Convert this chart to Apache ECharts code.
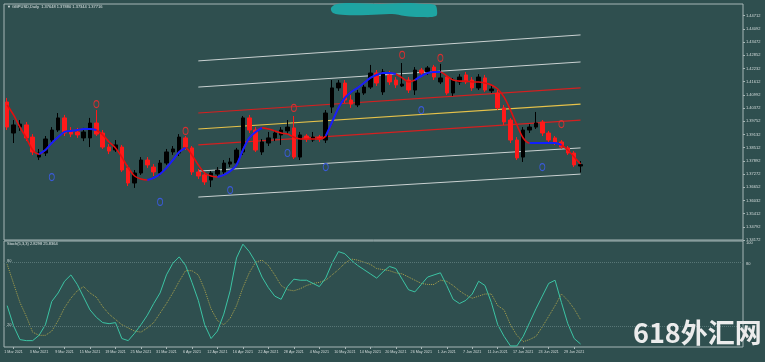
<!DOCTYPE html>
<html><head><meta charset="utf-8">
<script src="https://cdn.jsdelivr.net/npm/echarts@6/dist/echarts.min.js"></script>
<style>html,body{margin:0;padding:0;background:#2f4f4f;}#c{width:765px;height:362px;}</style>
</head><body><div id="c"></div>
<script>
// ---- data ----
const firstDate = '2021-02-24';
const barCount = 91;
const blankBars = 25;
const tickLabels = ['1 Mar 2021','3 Mar 2021','9 Mar 2021','15 Mar 2021','19 Mar 2021','25 Mar 2021','31 Mar 2021','6 Apr 2021','12 Apr 2021','16 Apr 2021','22 Apr 2021','28 Apr 2021','4 May 2021','10 May 2021','14 May 2021','20 May 2021','26 May 2021','1 Jun 2021','7 Jun 2021','11 Jun 2021','17 Jun 2021','23 Jun 2021','29 Jun 2021'];
// [open, close, low, high]
const candles = [
[1.4066,1.3948,1.3934,1.4085],[1.3920,1.3958,1.3873,1.3981],[1.3948,1.3962,1.3930,1.3981],[1.3958,1.3897,1.3882,1.3972],[1.3901,1.3831,1.3817,1.3915],
[1.3807,1.3826,1.3793,1.3845],[1.3826,1.3892,1.3812,1.3906],[1.3887,1.3934,1.3878,1.3948],[1.3934,1.3991,1.3925,1.4014],[1.3991,1.3920,1.3906,1.4005],
[1.3930,1.3915,1.3901,1.3948],[1.3925,1.3911,1.3897,1.3944],[1.3897,1.3925,1.3882,1.3944],[1.3897,1.3967,1.3854,1.3991],[1.3967,1.3915,1.3906,1.4028],
[1.3920,1.3854,1.3845,1.3934],[1.3854,1.3835,1.3821,1.3868],[1.3840,1.3864,1.3831,1.3887],[1.3854,1.3746,1.3737,1.3864],[1.3756,1.3685,1.3671,1.3770],
[1.3685,1.3732,1.3662,1.3746],[1.3732,1.3793,1.3723,1.3807],[1.3793,1.3770,1.3756,1.3807],[1.3760,1.3737,1.3718,1.3774],[1.3732,1.3779,1.3718,1.3793],
[1.3779,1.3831,1.3770,1.3845],[1.3831,1.3845,1.3817,1.3859],[1.3826,1.3901,1.3812,1.3915],[1.3897,1.3854,1.3840,1.3906],[1.3850,1.3737,1.3723,1.3859],
[1.3737,1.3718,1.3704,1.3751],[1.3723,1.3690,1.3676,1.3737],[1.3699,1.3732,1.3666,1.3741],[1.3727,1.3746,1.3713,1.3760],[1.3737,1.3779,1.3723,1.3793],
[1.3774,1.3784,1.3760,1.3803],[1.3779,1.3840,1.3765,1.3850],[1.3831,1.3991,1.3817,1.4000],[1.3991,1.3934,1.3920,1.4005],[1.3934,1.3840,1.3831,1.3948],
[1.3831,1.3878,1.3817,1.3892],[1.3873,1.3897,1.3859,1.3925],[1.3897,1.3920,1.3882,1.3934],[1.3911,1.3934,1.3864,1.3948],[1.3930,1.3948,1.3915,1.3981],
[1.3944,1.3807,1.3798,1.4000],[1.3807,1.3911,1.3793,1.3925],[1.3906,1.3892,1.3878,1.3915],[1.3887,1.3901,1.3878,1.3925],[1.3901,1.3892,1.3878,1.3911],
[1.3887,1.4014,1.3873,1.4028],[1.4042,1.4132,1.4014,1.4169],[1.4132,1.4155,1.4118,1.4169],[1.4155,1.4075,1.4061,1.4169],[1.4075,1.4056,1.4038,1.4099],
[1.4052,1.4108,1.4042,1.4122],[1.4108,1.4136,1.4099,1.4150],[1.4136,1.4202,1.4127,1.4240],[1.4202,1.4155,1.4141,1.4216],[1.4113,1.4207,1.4099,1.4221],
[1.4193,1.4160,1.4146,1.4212],[1.4169,1.4146,1.4132,1.4183],[1.4141,1.4150,1.4136,1.4249],[1.4169,1.4122,1.4108,1.4183],[1.4122,1.4216,1.4099,1.4230],
[1.4216,1.4202,1.4188,1.4226],[1.4207,1.4226,1.4193,1.4235],[1.4230,1.4183,1.4169,1.4240],[1.4160,1.4179,1.4150,1.4245],[1.4183,1.4108,1.4099,1.4193],
[1.4108,1.4169,1.4094,1.4179],[1.4160,1.4183,1.4146,1.4197],[1.4193,1.4160,1.4150,1.4207],[1.4169,1.4132,1.4118,1.4183],[1.4132,1.4183,1.4122,1.4197],
[1.4179,1.4122,1.4113,1.4193],[1.4118,1.4127,1.4108,1.4141],[1.4108,1.4038,1.4028,1.4122],[1.4038,1.3972,1.3958,1.4052],[1.3981,1.3887,1.3873,1.3991],
[1.3887,1.3803,1.3793,1.3901],[1.3807,1.3934,1.3784,1.3948],[1.3934,1.3948,1.3920,1.3962],[1.3948,1.3967,1.3939,1.4019],[1.3972,1.3920,1.3906,1.3981],
[1.3920,1.3887,1.3878,1.3930],[1.3897,1.3873,1.3864,1.3906],[1.3878,1.3854,1.3845,1.3887],[1.3850,1.3826,1.3817,1.3859],[1.3826,1.3770,1.3760,1.3835],
[1.37648,1.37716,1.37344,1.37880]
];
const trendLine = [
1.4052,1.4005,1.3948,1.3897,1.3840,1.3821,1.3840,1.3873,1.3901,1.3925,
1.3930,1.3934,1.3939,1.3939,1.3934,1.3911,1.3878,1.3850,1.3807,1.3756,
1.3718,1.3704,1.3699,1.3709,1.3727,1.3756,1.3793,1.3831,1.3850,1.3817,
1.3770,1.3732,1.3718,1.3713,1.3723,1.3741,1.3770,1.3840,1.3897,1.3925,
1.3944,1.3939,1.3930,1.3920,1.3915,1.3901,1.3892,1.3892,1.3892,1.3892,
1.3906,1.3972,1.4038,1.4085,1.4113,1.4132,1.4155,1.4179,1.4193,1.4202,
1.4202,1.4197,1.4179,1.4160,1.4169,1.4188,1.4202,1.4207,1.4207,1.4188,
1.4169,1.4164,1.4164,1.4160,1.4160,1.4155,1.4146,1.4127,1.4089,1.4028,
1.3958,1.3897,1.3873,1.3873,1.3873,1.3873,1.3873,1.3864,1.3840,1.3807,
1.3774];
const upSegments = [[5,14],[22,28],[33,40],[50,61],[64,68],[82,87]];
const channelRange = [30, 90];
const channelMid = [1.3939, 1.4056];
const channelRedUp = [1.4014, 1.4132];
const channelRedDn = [1.3864, 1.3981];
const channelGrayUp1 = [1.4136, 1.4254];
const channelGrayUp2 = [1.4259, 1.4381];
const channelGrayDn1 = [1.3741, 1.3850];
const channelGrayDn2 = [1.3619, 1.3727];
const fractalUp = [[14,1.4056],[28,1.3930],[45,1.4038],[62,1.4287],[68,1.4273],[87,1.3962]];
const fractalDown = [[7,1.3713],[24,1.3596],[35,1.3652],[44,1.3826],[50,1.3760],[65,1.4028],[84,1.3760]];
const stochMain = [
39,20,7,6,6,11,21,43,51,62,
68,59,47,35,28,23,22,23,8,6,
13,21,30,41,51,68,79,85,77,61,
44,21,8,15,31,53,84,97,90,80,
66,56,48,45,57,64,63,63,60,57,
65,79,90,88,82,77,73,69,65,71,
76,74,64,54,52,59,66,68,70,58,
45,41,44,50,62,58,42,21,10,1,
1,10,23,36,48,60,63,42,22,8,
2.83];
const stochSignal = [
78,60,42,29,14,11,11,15,25,37,
46,53,57,51,47,38,31,26,21,18,
15,14,18,23,32,41,51,62,72,72,
68,54,36,25,21,27,39,56,70,80,
82,77,68,58,54,53,55,58,60,61,
63,68,73,79,83,82,80,78,74,73,
72,70,69,66,63,60,59,59,63,62,
58,53,49,46,48,50,50,39,35,21,
11,5,7,10,19,29,39,50,44,36,
25.84];
const lastPrice = 1.37716;
const priceMin = 1.34172, priceMax = 1.45264, priceStep = 0.0062;

// ---- build categories ----
const cats = [];
{
  let d = new Date(firstDate + 'T00:00:00Z');
  while (cats.length < barCount) {
    const wd = d.getUTCDay();
    if (wd !== 0 && wd !== 6) cats.push(d.toISOString().slice(0,10));
    d.setUTCDate(d.getUTCDate() + 1);
  }
  for (let i = 0; i < blankBars; i++) cats.push('blank' + i);
}
const upLine = trendLine.map((v, i) => upSegments.some(s => i >= s[0] && i <= s[1]) ? v : null);
const chan = (arr) => [[channelRange[0], arr[0]], [channelRange[1], arr[1]]];
const isTick = (idx) => idx % 4 === 1 && idx <= 89;

const F = 'Liberation Sans';
const xlab = { fontSize: 3.7, color: '#d4dcdc', fontFamily: F };
const ylab = { fontSize: 4, color: '#d4dcdc', fontFamily: F };

const chart = echarts.init(document.getElementById('c'));
chart.setOption({
  animation: false,
  backgroundColor: '#2f4f4f',
  grid: [
    { left: 4, right: 22, top: 4, bottom: 122, show: true, borderColor: '#a7b7b7', borderWidth: 1 },
    { left: 4, right: 22, top: 241, bottom: 15, show: true, borderColor: '#a7b7b7', borderWidth: 1 }
  ],
  xAxis: [
    { type: 'category', gridIndex: 0, data: cats, boundaryGap: true, axisLine: { show: false }, axisTick: { show: false }, axisLabel: { show: false } },
    { type: 'category', gridIndex: 1, data: cats, boundaryGap: true, axisLine: { show: false },
      axisTick: { show: true, interval: isTick, alignWithLabel: true, length: 2, lineStyle: { color: '#a7b7b7' } },
      axisLabel: Object.assign({ interval: isTick, margin: 3, formatter: (v, idx) => tickLabels[(idx - 1) / 4] || '' }, xlab) }
  ],
  yAxis: [
    { type: 'value', gridIndex: 0, position: 'right', min: priceMin, max: priceMax, interval: priceStep,
      splitLine: { show: false }, axisLine: { show: false },
      axisTick: { show: true, length: 2, lineStyle: { color: '#a7b7b7' } },
      axisLabel: Object.assign({ margin: 3, showMaxLabel: false, formatter: v => v.toFixed(5) }, ylab) },
    { type: 'value', gridIndex: 1, position: 'right', min: 0, max: 100, interval: 20,
      splitLine: { show: false }, axisLine: { show: false },
      axisTick: { show: false },
      axisLabel: Object.assign({ margin: 3, verticalAlign: 'top', formatter: v => (v === 100 || v === 80 || v === 20) ? String(v) : '' }, ylab) }
  ],
  series: [
    { type: 'line', data: chan(channelGrayUp2), symbol: 'none', lineStyle: { color: '#c9d1d1', width: 1 }, z: 2 },
    { type: 'line', data: chan(channelGrayUp1), symbol: 'none', lineStyle: { color: '#c9d1d1', width: 1 }, z: 2 },
    { type: 'line', data: chan(channelGrayDn1), symbol: 'none', lineStyle: { color: '#c9d1d1', width: 1 }, z: 2 },
    { type: 'line', data: chan(channelGrayDn2), symbol: 'none', lineStyle: { color: '#c9d1d1', width: 1 }, z: 2 },
    { type: 'line', data: chan(channelRedUp), symbol: 'none', lineStyle: { color: '#d42020', width: 1.2 }, z: 2 },
    { type: 'line', data: chan(channelRedDn), symbol: 'none', lineStyle: { color: '#d42020', width: 1.2 }, z: 2 },
    { type: 'line', data: chan(channelMid), symbol: 'none', lineStyle: { color: '#e6c24a', width: 1.2 }, z: 2 },
    { type: 'candlestick', data: candles, barWidth: 4, z: 3,
      itemStyle: { color: '#000000', borderColor: '#000000', color0: '#ff1a1a', borderColor0: '#ff1a1a', borderWidth: 1 },
      markLine: { silent: true, symbol: 'none', data: [{ yAxis: lastPrice }], lineStyle: { opacity: 0 },
        label: { show: true, position: 'end', distance: 3, formatter: lastPrice.toFixed(5), fontSize: 4, fontFamily: F, color: '#000', backgroundColor: '#eef2f2', padding: [1, 2] } } },
    { type: 'line', data: trendLine, symbol: 'none', smooth: 0.3, lineStyle: { color: '#e01010', width: 1.6 }, z: 4 },
    { type: 'line', data: upLine, symbol: 'none', smooth: 0.3, connectNulls: false, lineStyle: { color: '#1020ff', width: 2 }, z: 5 },
    { type: 'scatter', data: fractalUp, symbol: 'circle', symbolSize: [5, 7], itemStyle: { color: 'rgba(0,0,0,0)', borderColor: '#d83030', borderWidth: 1, opacity: 1 }, z: 6 },
    { type: 'scatter', data: fractalDown, symbol: 'circle', symbolSize: [5, 7], itemStyle: { color: 'rgba(0,0,0,0)', borderColor: '#3a5ad8', borderWidth: 1, opacity: 1 }, z: 6 },
    { type: 'line', xAxisIndex: 1, yAxisIndex: 1, data: stochMain, symbol: 'none', lineStyle: { color: '#3cc4a4', width: 1 }, z: 4,
      markLine: { silent: true, symbol: 'none', label: { show: false }, lineStyle: { color: '#587676', type: 'dotted', width: 1 }, data: [{ yAxis: 80 }, { yAxis: 20 }] } },
    { type: 'line', xAxisIndex: 1, yAxisIndex: 1, data: stochSignal, symbol: 'none', lineStyle: { color: '#aaa24c', width: 1, type: 'dotted' }, z: 3 }
  ],
  graphic: [
    { type: 'text', left: 7, top: 5, z: 10, style: { text: '▼ GBPUSD,Daily  1.37648 1.37880 1.37344 1.37716', fill: '#dfe6e6', font: '4px "Liberation Sans"' } },
    { type: 'text', left: 7, top: 242, z: 10, style: { text: 'Stoch(5,3,3) 2.8298 25.8364', fill: '#dfe6e6', font: '4px "Liberation Sans"' } },
    { type: 'text', left: 7, top: 259, z: 10, style: { text: '80', fill: '#c8d0d0', font: '4px "Liberation Sans"' } },
    { type: 'text', left: 7, top: 323, z: 10, style: { text: '20', fill: '#c8d0d0', font: '4px "Liberation Sans"' } },
    { type: 'polygon', z: 10, shape: { smooth: 0.35, points: [[331,8],[337,4],[352,3],[380,4],[405,3],[425,4],[435,5],[437,10],[436,16],[420,17],[405,16],[392,14],[368,15],[345,15],[333,13]] }, style: { fill: '#1ea5a3' } },
    { type: 'text', left: 633, top: 319, z: 20, style: { text: '618外汇网', fill: '#ececec', font: 'bold 27px "Noto Sans CJK SC"' } }
  ]
});
</script></body></html>
